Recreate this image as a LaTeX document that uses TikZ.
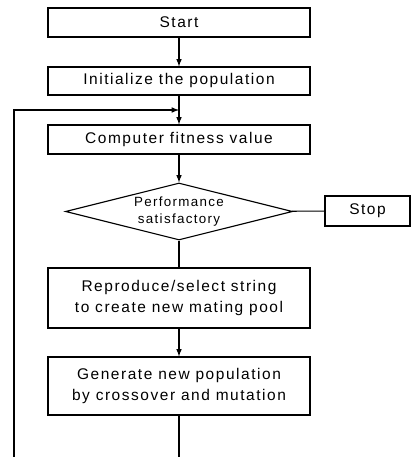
\documentclass[tikz,border=0pt]{standalone}
\usepackage{fontspec}
\setmainfont[LetterSpace=10]{Liberation Sans}
\usetikzlibrary{shapes.geometric}

\tikzset{
	stepbox/.style={draw, line width=0.8pt, minimum width=6.55cm, align=center, inner sep=0pt, font=\fontsize{11}{14.5}\selectfont},
	decide/.style={draw, diamond, shape aspect=4, line width=0.8pt, minimum width=5.675cm, minimum height=1.425cm, inner sep=0pt, align=center, font=\fontsize{9.5}{12}\selectfont},
	flow/.style={line width=0.8pt, -latex},
	plain/.style={line width=0.8pt}
}

\begin{document}
\begin{tikzpicture}[x=0.025cm, y=-0.025cm]
	\useasboundingbox (0,0) rectangle (411,457);
	\node[stepbox, minimum height=0.725cm] (start) at (179,22.5) {Start};
	\node[stepbox, minimum height=0.7cm] (init) at (179,81) {Initialize the population};
	\node[stepbox, minimum height=0.725cm] (fit) at (179,139.5) {Computer fitness value};
	\node[decide] (perf) at (179,211.5) {Performance\\satisfactory};
	\node[stepbox, minimum width=2.125cm, minimum height=0.75cm] (stop) at (367.5,211) {Stop};
	\node[stepbox, minimum height=1.5cm] (repro) at (179,298) {Reproduce/select string\\to create new mating pool};
	\node[stepbox, minimum height=1.45cm] (gen) at (179,386) {Generate new population\\by crossover and mutation};
	\coordinate (merge) at (179,110);
	\coordinate (loopend) at (14,457);
	\coordinate (genend) at (179,457);
	\draw[flow] (start) -- (init);
	\draw[flow] (init) -- (fit);
	\draw[flow] (fit) -- (perf);
	\draw[plain] (perf) -- (stop);
	\draw[plain] (perf) -- (repro);
	\draw[flow] (repro) -- (gen);
	\draw[plain] (gen) -- (genend);
	\draw[flow] (loopend) |- (merge);
\end{tikzpicture}
\end{document}
